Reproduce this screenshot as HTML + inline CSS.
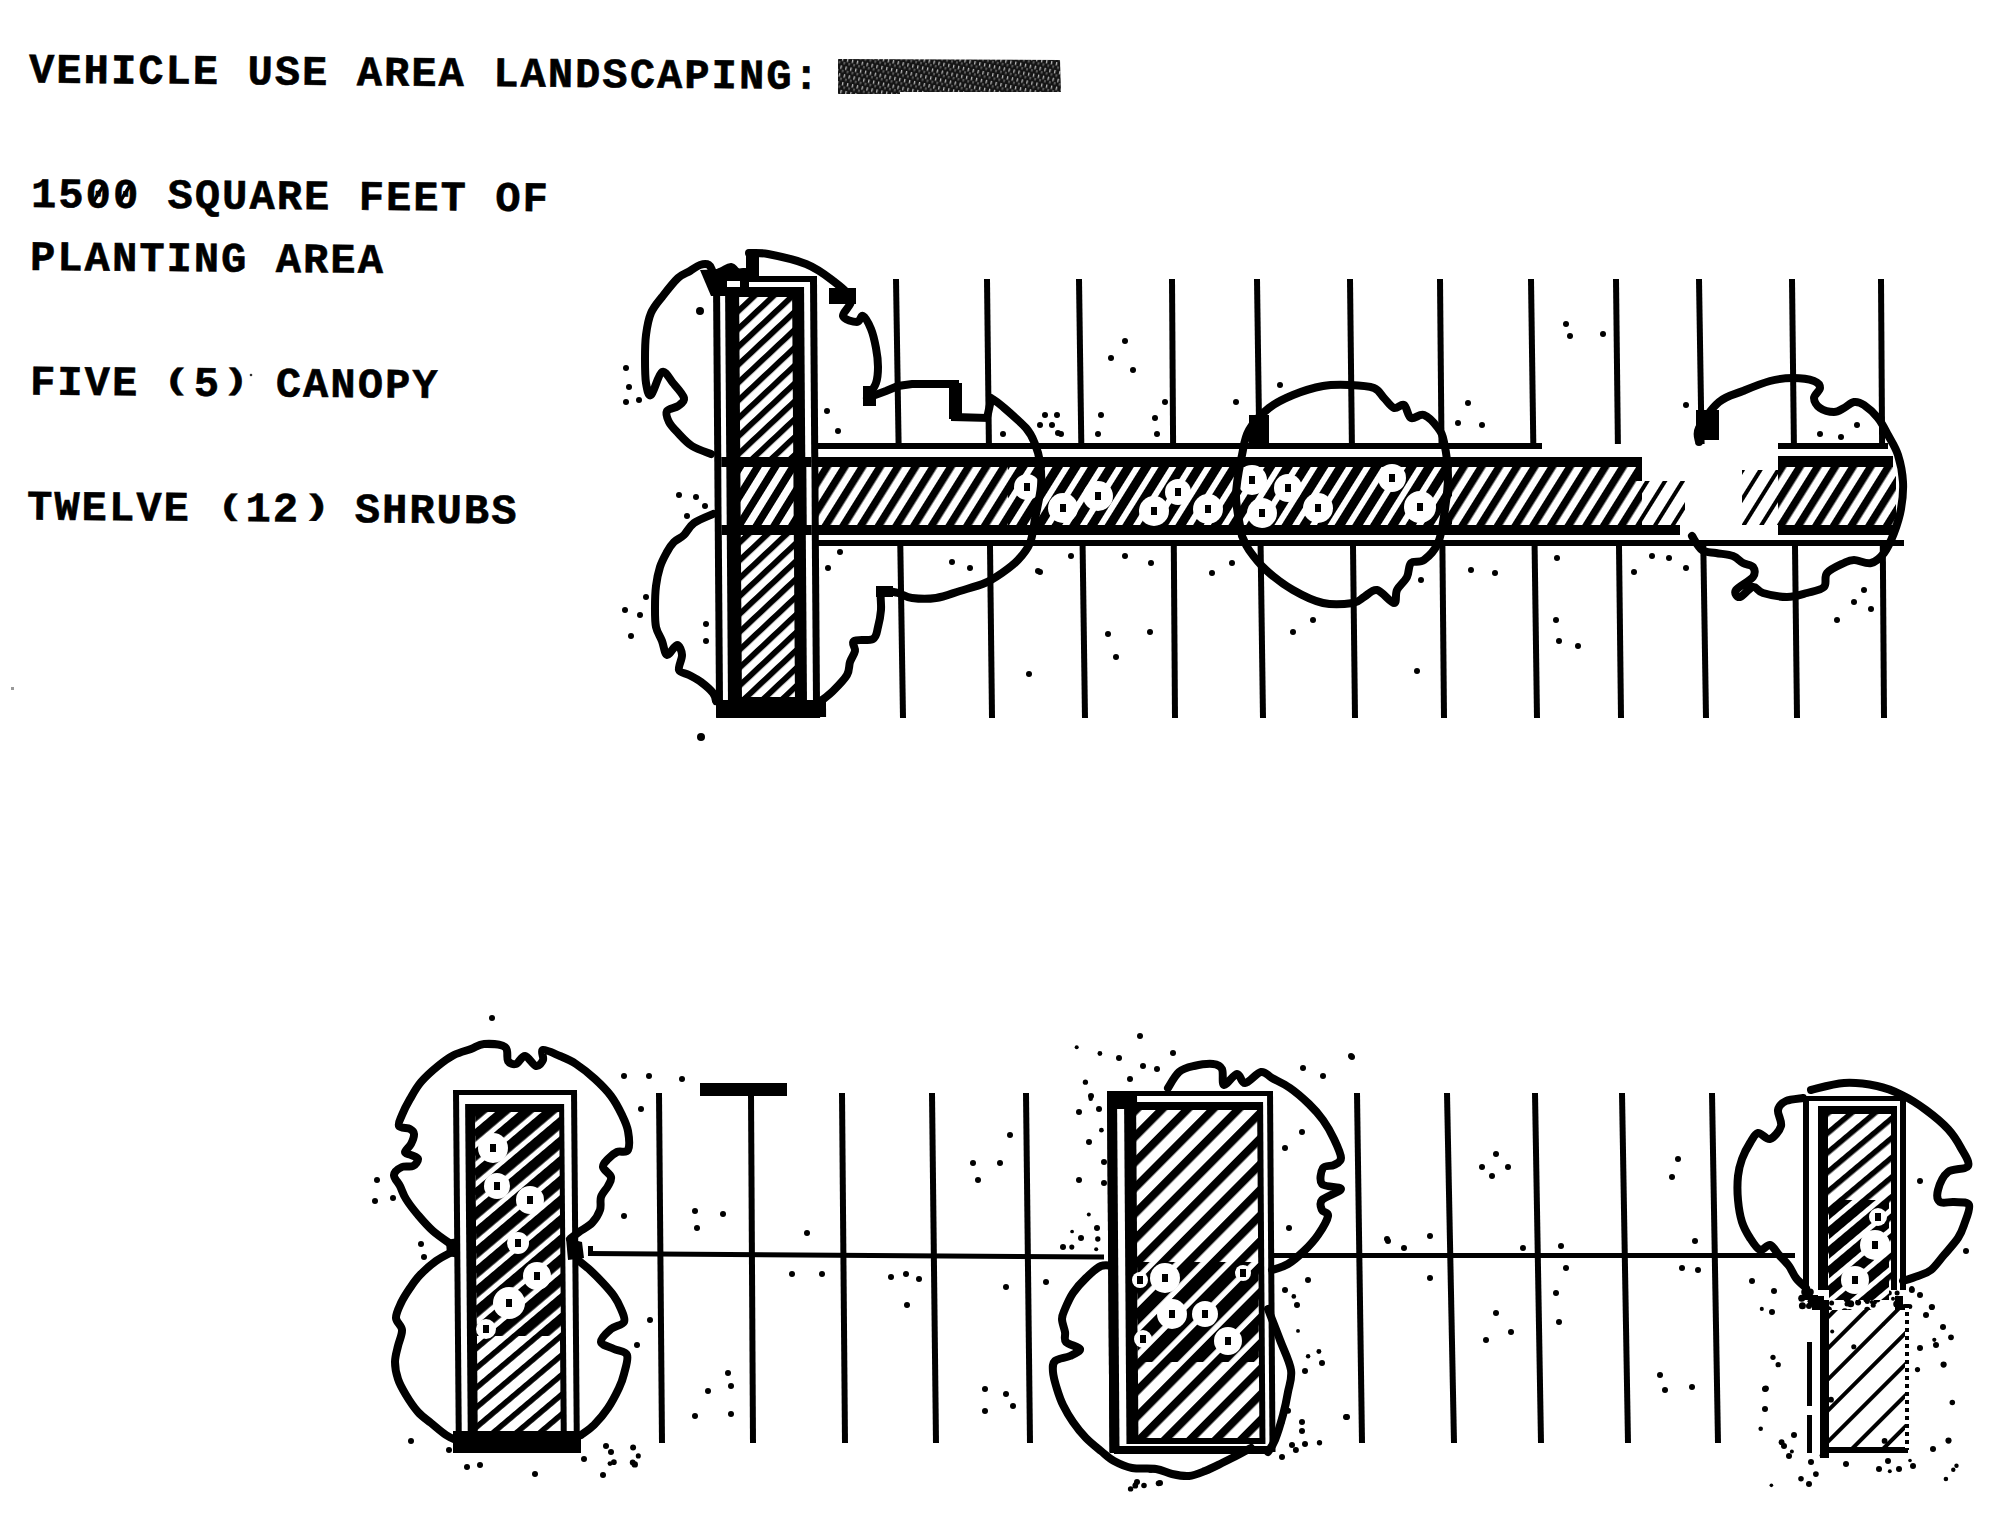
<!DOCTYPE html>
<html><head><meta charset="utf-8"><title>Vehicle Use Area Landscaping</title>
<style>
html,body{margin:0;padding:0;background:#fff;}
body{width:2000px;height:1515px;overflow:hidden;}
svg{display:block;}
</style></head>
<body>
<svg width="2000" height="1515" viewBox="0 0 2000 1515">

<defs>
 <pattern id="hatchH" patternUnits="userSpaceOnUse" width="15" height="15" patternTransform="rotate(32)">
  <rect width="15" height="15" fill="#fff"/><rect x="0" y="0" width="7.5" height="15" fill="#000"/>
 </pattern>
 <pattern id="hatchH2" patternUnits="userSpaceOnUse" width="15" height="15" patternTransform="rotate(32)">
  <rect width="15" height="15" fill="#fff"/><rect x="0" y="0" width="4" height="15" fill="#000"/>
 </pattern>
 <pattern id="hatchS" patternUnits="userSpaceOnUse" width="15" height="15" patternTransform="rotate(32)">
  <rect width="15" height="15" fill="#fff"/><rect x="0" y="0" width="9" height="15" fill="#000"/>
 </pattern>
 <pattern id="hatchV" patternUnits="userSpaceOnUse" width="13" height="13" patternTransform="rotate(47)">
  <rect width="13" height="13" fill="#fff"/><rect x="0" y="0" width="5.8" height="13" fill="#000"/>
 </pattern>
 <pattern id="hatchB" patternUnits="userSpaceOnUse" width="15" height="15" patternTransform="rotate(50)">
  <rect width="15" height="15" fill="#fff"/><rect x="0" y="0" width="5.5" height="15" fill="#000"/>
 </pattern>
 <pattern id="hatchM" patternUnits="userSpaceOnUse" width="18" height="18" patternTransform="rotate(45)">
  <rect width="18" height="18" fill="#fff"/><rect x="0" y="0" width="8" height="18" fill="#000"/>
 </pattern>
 <pattern id="hatchB2" patternUnits="userSpaceOnUse" width="15" height="15" patternTransform="rotate(50)">
  <rect width="15" height="15" fill="#fff"/><rect x="0" y="0" width="10" height="15" fill="#000"/>
 </pattern>
 <pattern id="hatchM2" patternUnits="userSpaceOnUse" width="18" height="18" patternTransform="rotate(45)">
  <rect width="18" height="18" fill="#fff"/><rect x="0" y="0" width="12.5" height="18" fill="#000"/>
 </pattern>
 <pattern id="hatchS2" patternUnits="userSpaceOnUse" width="17" height="17" patternTransform="rotate(45)">
  <rect width="17" height="17" fill="#fff"/><rect x="0" y="0" width="11" height="17" fill="#000"/>
 </pattern>
 <pattern id="hatchF" patternUnits="userSpaceOnUse" width="22" height="22" patternTransform="rotate(45)">
  <rect width="22" height="22" fill="#fff"/><rect x="0" y="0" width="4" height="22" fill="#000"/>
 </pattern>
 <pattern id="dots" patternUnits="userSpaceOnUse" width="4" height="8">
  <rect width="4" height="8" fill="#fff"/><rect x="0" y="0" width="4" height="4" fill="#000"/>
 </pattern>
 <pattern id="bar" patternUnits="userSpaceOnUse" width="5" height="8" patternTransform="rotate(12)">
  <rect width="5" height="8" fill="#141414"/><rect x="1" y="1" width="1.3" height="3.5" fill="#bbb"/><rect x="3.5" y="5" width="1" height="2.5" fill="#999"/>
 </pattern>
</defs>

<rect width="2000" height="1515" fill="#fff"/>
<text transform="rotate(0.47 29 82.5)" x="29" y="82.5" font-family="Liberation Mono, monospace" font-weight="bold" font-size="42" letter-spacing="2.1" stroke="#000" stroke-width="0.6" xml:space="preserve">VEHICLE USE AREA LANDSCAPING:</text>
<text transform="rotate(0.47 31 207)" x="31" y="207" font-family="Liberation Mono, monospace" font-weight="bold" font-size="42" letter-spacing="2.1" stroke="#000" stroke-width="0.6" xml:space="preserve">1500 SQUARE FEET OF</text>
<text transform="rotate(0.47 30 270)" x="30" y="270" font-family="Liberation Mono, monospace" font-weight="bold" font-size="42" letter-spacing="2.1" stroke="#000" stroke-width="0.6" xml:space="preserve">PLANTING AREA</text>
<text transform="rotate(0.47 30 394.5)" x="30" y="394.5" font-family="Liberation Mono, monospace" font-weight="bold" font-size="42" letter-spacing="2.1" stroke="#000" stroke-width="0.6" xml:space="preserve">FIVE  5  CANOPY</text>
<text transform="rotate(0.47 27 519.5)" x="27" y="519.5" font-family="Liberation Mono, monospace" font-weight="bold" font-size="42" letter-spacing="2.1" stroke="#000" stroke-width="0.6" xml:space="preserve">TWELVE  12  SHRUBS</text>
<g transform="rotate(0.47 30 394.5)"><text transform="translate(162.8,387.89) scale(1.1,0.705)" x="0" y="0" font-family="Liberation Mono, monospace" font-weight="bold" font-size="42" stroke="#000" stroke-width="0.6">(</text></g>
<g transform="rotate(0.47 30 394.5)"><text transform="translate(222.1,387.41) scale(1.06,0.705)" x="0" y="0" font-family="Liberation Mono, monospace" font-weight="bold" font-size="42" stroke="#000" stroke-width="0.6">)</text></g>
<g transform="rotate(0.47 27 519.5)"><text transform="translate(216.8,513.13) scale(1.08,0.695)" x="0" y="0" font-family="Liberation Mono, monospace" font-weight="bold" font-size="42" stroke="#000" stroke-width="0.6">(</text></g>
<g transform="rotate(0.47 27 519.5)"><text transform="translate(302.0,512.43) scale(1.15,0.695)" x="0" y="0" font-family="Liberation Mono, monospace" font-weight="bold" font-size="42" stroke="#000" stroke-width="0.6">)</text></g>
<g transform="rotate(0.47 31 207)">
<line x1="92.8" y1="202" x2="103.8" y2="184" stroke="#000" stroke-width="3.5"/>
<line x1="119.2" y1="202" x2="130.2" y2="184" stroke="#000" stroke-width="3.5"/>
</g>
<path d="M838,59 L1060,60 L1061,92 L900,92 L900,94 L838,94 Z" fill="url(#bar)"/>
<line x1="896.0" y1="279.0" x2="898.6" y2="444.0" stroke="#000" stroke-width="6"/>
<line x1="900.3" y1="546.0" x2="903.0" y2="718.0" stroke="#000" stroke-width="6"/>
<line x1="987.0" y1="279.0" x2="988.9" y2="444.0" stroke="#000" stroke-width="6"/>
<line x1="990.0" y1="546.0" x2="992.0" y2="718.0" stroke="#000" stroke-width="6"/>
<line x1="1079.0" y1="279.0" x2="1081.3" y2="444.0" stroke="#000" stroke-width="6"/>
<line x1="1082.6" y1="546.0" x2="1085.0" y2="718.0" stroke="#000" stroke-width="6"/>
<line x1="1172.0" y1="279.0" x2="1173.1" y2="444.0" stroke="#000" stroke-width="6"/>
<line x1="1173.8" y1="546.0" x2="1175.0" y2="718.0" stroke="#000" stroke-width="6"/>
<line x1="1257.0" y1="279.0" x2="1259.3" y2="444.0" stroke="#000" stroke-width="6"/>
<line x1="1260.6" y1="546.0" x2="1263.0" y2="718.0" stroke="#000" stroke-width="6"/>
<line x1="1350.0" y1="279.0" x2="1351.9" y2="444.0" stroke="#000" stroke-width="6"/>
<line x1="1353.0" y1="546.0" x2="1355.0" y2="718.0" stroke="#000" stroke-width="6"/>
<line x1="1440.0" y1="279.0" x2="1441.5" y2="444.0" stroke="#000" stroke-width="6"/>
<line x1="1442.4" y1="546.0" x2="1444.0" y2="718.0" stroke="#000" stroke-width="6"/>
<line x1="1531.0" y1="279.0" x2="1533.3" y2="444.0" stroke="#000" stroke-width="6"/>
<line x1="1534.6" y1="546.0" x2="1537.0" y2="718.0" stroke="#000" stroke-width="6"/>
<line x1="1616.0" y1="279.0" x2="1617.9" y2="444.0" stroke="#000" stroke-width="6"/>
<line x1="1619.0" y1="546.0" x2="1621.0" y2="718.0" stroke="#000" stroke-width="6"/>
<line x1="1699.0" y1="279.0" x2="1701.6" y2="444.0" stroke="#000" stroke-width="6"/>
<line x1="1703.3" y1="546.0" x2="1706.0" y2="718.0" stroke="#000" stroke-width="6"/>
<line x1="1792.0" y1="279.0" x2="1793.9" y2="444.0" stroke="#000" stroke-width="6"/>
<line x1="1795.0" y1="546.0" x2="1797.0" y2="718.0" stroke="#000" stroke-width="6"/>
<line x1="1881.0" y1="279.0" x2="1882.1" y2="444.0" stroke="#000" stroke-width="6"/>
<line x1="1882.8" y1="546.0" x2="1884.0" y2="718.0" stroke="#000" stroke-width="6"/>
<rect x="816" y="443" width="726" height="6" fill="#000"/>
<rect x="1778" y="443" width="110" height="6" fill="#000"/>
<rect x="816" y="540" width="1088" height="6" fill="#000"/>
<rect x="816" y="467" width="826" height="58" fill="url(#hatchH)"/>
<rect x="1642" y="481" width="43" height="44" fill="url(#hatchH2)"/>
<rect x="1742" y="470" width="38" height="55" fill="url(#hatchH2)"/>
<rect x="1778" y="467" width="118" height="58" fill="url(#hatchH)"/>
<rect x="816" y="457" width="826" height="10" fill="#000"/>
<rect x="1778" y="456" width="115" height="11" fill="#000"/>
<rect x="816" y="525" width="864" height="10" fill="#000"/>
<rect x="1778" y="525" width="118" height="10" fill="#000"/>
<rect x="1636" y="467" width="6" height="14" fill="#000"/>
<rect x="1008" y="467" width="444" height="58" fill="url(#hatchS)"/>
<circle cx="1027.0" cy="487.0" r="13" fill="#fff"/>
<rect x="1024.0" y="483.0" width="6" height="8" fill="#000"/>
<circle cx="1063.0" cy="508.0" r="15" fill="#fff"/>
<rect x="1060.0" y="504.0" width="6" height="8" fill="#000"/>
<circle cx="1098.0" cy="496.0" r="15" fill="#fff"/>
<rect x="1095.0" y="492.0" width="6" height="8" fill="#000"/>
<circle cx="1154.0" cy="511.0" r="15" fill="#fff"/>
<rect x="1151.0" y="507.0" width="6" height="8" fill="#000"/>
<circle cx="1178.0" cy="492.0" r="13" fill="#fff"/>
<rect x="1175.0" y="488.0" width="6" height="8" fill="#000"/>
<circle cx="1208.0" cy="509.0" r="15" fill="#fff"/>
<rect x="1205.0" y="505.0" width="6" height="8" fill="#000"/>
<circle cx="1252.0" cy="480.0" r="15" fill="#fff"/>
<rect x="1249.0" y="476.0" width="6" height="8" fill="#000"/>
<circle cx="1262.0" cy="513.0" r="15" fill="#fff"/>
<rect x="1259.0" y="509.0" width="6" height="8" fill="#000"/>
<circle cx="1288.0" cy="488.0" r="14" fill="#fff"/>
<rect x="1285.0" y="484.0" width="6" height="8" fill="#000"/>
<circle cx="1318.0" cy="508.0" r="15" fill="#fff"/>
<rect x="1315.0" y="504.0" width="6" height="8" fill="#000"/>
<circle cx="1392.0" cy="478.0" r="14" fill="#fff"/>
<rect x="1389.0" y="474.0" width="6" height="8" fill="#000"/>
<circle cx="1420.0" cy="507.0" r="16" fill="#fff"/>
<rect x="1417.0" y="503.0" width="6" height="8" fill="#000"/>
<g transform="matrix(1,0,0.0071,1,-1.99,0)">
<rect x="713" y="276" width="104" height="442" fill="#000"/>
<rect x="720" y="282" width="90" height="424" fill="#fff"/>
<rect x="725" y="287" width="79" height="418" fill="#000"/>
<rect x="739" y="297" width="53" height="400" fill="url(#hatchV)"/>
<rect x="720" y="457" width="90" height="78" fill="#000"/>
<rect x="739" y="467" width="53" height="58" fill="url(#hatchH)"/>
<rect x="720" y="467" width="5" height="58" fill="#fff"/>
<rect x="805" y="467" width="5" height="58" fill="#fff"/>
<rect x="713" y="700" width="110" height="17" fill="#000"/>
</g>
<path d="M744.0,272.0 C743.0,272.2 740.2,273.8 738.0,273.0 C735.8,272.2 733.7,267.3 731.0,267.0 C728.3,266.7 724.8,270.0 722.0,271.0 C719.2,272.0 716.2,274.0 714.0,273.0 C711.8,272.0 711.3,266.3 709.0,265.0 C706.7,263.7 703.2,264.0 700.0,265.0 C696.8,266.0 693.7,268.8 690.0,271.0 C686.3,273.2 682.7,273.7 678.0,278.0 C673.3,282.3 666.5,291.2 662.0,297.0 C657.5,302.8 653.7,306.7 651.0,313.0 C648.3,319.3 647.0,327.3 646.0,335.0 C645.0,342.7 645.0,351.0 645.0,359.0 C645.0,367.0 645.0,377.0 646.0,383.0 C647.0,389.0 648.3,396.8 651.0,395.0 C653.7,393.2 658.3,374.0 662.0,372.0 C665.7,370.0 669.3,378.7 673.0,383.0 C676.7,387.3 683.2,394.2 684.0,398.0 C684.8,401.8 680.8,403.8 678.0,406.0 C675.2,408.2 668.5,408.3 667.0,411.0 C665.5,413.7 667.2,418.3 669.0,422.0 C670.8,425.7 674.2,429.0 678.0,433.0 C681.8,437.0 686.5,442.5 692.0,446.0 C697.5,449.5 707.8,452.7 711.0,454.0" fill="none" stroke="#000" stroke-width="8" stroke-linejoin="round" stroke-linecap="round"/>
<path d="M749.0,253.0 C752.2,253.2 758.5,252.2 768.0,254.0 C777.5,255.8 795.3,259.7 806.0,264.0 C816.7,268.3 824.5,274.2 832.0,280.0 C839.5,285.8 849.2,293.0 851.0,299.0 C852.8,305.0 842.0,312.2 843.0,316.0 C844.0,319.8 853.7,322.0 857.0,322.0 C860.3,322.0 860.7,314.8 863.0,316.0 C865.3,317.2 868.8,323.7 871.0,329.0 C873.2,334.3 874.8,341.7 876.0,348.0 C877.2,354.3 878.0,361.2 878.0,367.0 C878.0,372.8 877.8,377.8 876.0,383.0 C874.2,388.2 868.5,395.5 867.0,398.0" fill="none" stroke="#000" stroke-width="8" stroke-linejoin="round" stroke-linecap="round"/>
<polyline points="867,398 886,391 898,386 912,384 955,384 955,417 987,418 991,400" fill="none" stroke="#000" stroke-width="8" stroke-linejoin="miter"/>
<path d="M991.0,398.0 C992.8,399.3 996.2,401.0 1002.0,406.0 C1007.8,411.0 1020.5,421.7 1026.0,428.0 C1031.5,434.3 1032.7,438.3 1035.0,444.0 C1037.3,449.7 1039.0,455.0 1040.0,462.0 C1041.0,469.0 1041.8,476.5 1041.0,486.0 C1040.2,495.5 1036.8,509.5 1035.0,519.0 C1033.2,528.5 1032.8,536.2 1030.0,543.0 C1027.2,549.8 1022.7,555.0 1018.0,560.0 C1013.3,565.0 1007.5,569.2 1002.0,573.0 C996.5,576.8 992.0,580.0 985.0,583.0 C978.0,586.0 968.2,588.5 960.0,591.0 C951.8,593.5 944.0,596.8 936.0,598.0 C928.0,599.2 918.3,598.8 912.0,598.0 C905.7,597.2 902.8,594.3 898.0,593.0 C893.2,591.7 885.5,590.5 883.0,590.0" fill="none" stroke="#000" stroke-width="8" stroke-linejoin="round" stroke-linecap="round"/>
<path d="M713.0,514.0 C709.8,515.5 698.8,519.5 694.0,523.0 C689.2,526.5 687.3,531.8 684.0,535.0 C680.7,538.2 676.8,539.2 674.0,542.0 C671.2,544.8 669.3,547.8 667.0,552.0 C664.7,556.2 661.8,561.3 660.0,567.0 C658.2,572.7 656.8,579.3 656.0,586.0 C655.2,592.7 655.0,600.2 655.0,607.0 C655.0,613.8 654.8,621.3 656.0,627.0 C657.2,632.7 660.2,636.3 662.0,641.0 C663.8,645.7 664.5,654.3 667.0,655.0 C669.5,655.7 674.5,645.0 677.0,645.0 C679.5,645.0 681.7,650.8 682.0,655.0 C682.3,659.2 677.8,666.7 679.0,670.0 C680.2,673.3 685.3,673.0 689.0,675.0 C692.7,677.0 697.0,679.0 701.0,682.0 C705.0,685.0 710.5,689.8 713.0,693.0 C715.5,696.2 715.5,699.7 716.0,701.0" fill="none" stroke="#000" stroke-width="8" stroke-linejoin="round" stroke-linecap="round"/>
<path d="M821.0,701.0 C823.0,699.3 828.7,695.3 833.0,691.0 C837.3,686.7 844.2,679.8 847.0,675.0 C849.8,670.2 848.7,666.0 850.0,662.0 C851.3,658.0 854.3,654.5 855.0,651.0 C855.7,647.5 851.0,643.0 854.0,641.0 C857.0,639.0 869.0,641.3 873.0,639.0 C877.0,636.7 876.7,631.8 878.0,627.0 C879.3,622.2 880.5,615.7 881.0,610.0 C881.5,604.3 880.0,596.2 881.0,593.0 C882.0,589.8 886.0,591.3 887.0,591.0" fill="none" stroke="#000" stroke-width="8" stroke-linejoin="round" stroke-linecap="round"/>
<polygon points="746.0,251.0 759.0,251.0 759.0,276.0 746.0,276.0" fill="#000"/>
<polygon points="700.0,270.0 749.0,268.0 749.0,296.0 711.0,296.0" fill="#000"/>
<rect x="727" y="281" width="13" height="6" fill="#fff"/>
<polygon points="863.0,386.0 876.0,386.0 876.0,406.0 863.0,406.0" fill="#000"/>
<polygon points="949.0,383.0 962.0,383.0 962.0,419.0 949.0,419.0" fill="#000"/>
<polygon points="829.0,288.0 856.0,288.0 856.0,304.0 829.0,304.0" fill="#000"/>
<polygon points="876.0,586.0 893.0,586.0 893.0,597.0 876.0,597.0" fill="#000"/>
<path d="M1242.0,536.0 C1241.0,529.3 1236.0,509.5 1236.0,496.0 C1236.0,482.5 1239.8,466.0 1242.0,455.0 C1244.2,444.0 1244.5,437.8 1249.0,430.0 C1253.5,422.2 1261.7,413.8 1269.0,408.0 C1276.3,402.2 1284.0,398.7 1293.0,395.0 C1302.0,391.3 1313.5,387.7 1323.0,386.0 C1332.5,384.3 1341.5,384.7 1350.0,385.0 C1358.5,385.3 1368.3,385.8 1374.0,388.0 C1379.7,390.2 1380.7,394.7 1384.0,398.0 C1387.3,401.3 1390.7,406.8 1394.0,408.0 C1397.3,409.2 1401.2,403.3 1404.0,405.0 C1406.8,406.7 1407.7,416.3 1411.0,418.0 C1414.3,419.7 1419.5,413.3 1424.0,415.0 C1428.5,416.7 1434.7,423.5 1438.0,428.0 C1441.3,432.5 1442.3,434.0 1444.0,442.0 C1445.7,450.0 1448.0,463.7 1448.0,476.0 C1448.0,488.3 1445.7,504.8 1444.0,516.0 C1442.3,527.2 1441.3,535.7 1438.0,543.0 C1434.7,550.3 1428.5,556.7 1424.0,560.0 C1419.5,563.3 1413.8,560.2 1411.0,563.0 C1408.2,565.8 1409.3,572.5 1407.0,577.0 C1404.7,581.5 1399.2,585.7 1397.0,590.0 C1394.8,594.3 1397.3,603.0 1394.0,603.0 C1390.7,603.0 1382.0,591.0 1377.0,590.0 C1372.0,589.0 1368.0,594.8 1364.0,597.0 C1360.0,599.2 1359.8,602.0 1353.0,603.0 C1346.2,604.0 1333.0,605.2 1323.0,603.0 C1313.0,600.8 1302.5,595.5 1293.0,590.0 C1283.5,584.5 1273.3,576.7 1266.0,570.0 C1258.7,563.3 1253.0,555.7 1249.0,550.0 C1245.0,544.3 1243.2,538.3 1242.0,536.0" fill="none" stroke="#000" stroke-width="8" stroke-linejoin="round" stroke-linecap="round"/>
<polygon points="1249.0,415.0 1269.0,415.0 1269.0,449.0 1249.0,449.0" fill="#000"/>
<path d="M1699.0,442.0 C1699.0,439.7 1695.7,434.7 1699.0,428.0 C1702.3,421.3 1711.7,408.2 1719.0,402.0 C1726.3,395.8 1734.5,394.5 1743.0,391.0 C1751.5,387.5 1761.7,383.2 1770.0,381.0 C1778.3,378.8 1785.7,378.0 1793.0,378.0 C1800.3,378.0 1809.5,379.3 1814.0,381.0 C1818.5,382.7 1820.0,385.2 1820.0,388.0 C1820.0,390.8 1814.0,394.7 1814.0,398.0 C1814.0,401.3 1816.7,405.7 1820.0,408.0 C1823.3,410.3 1830.0,412.0 1834.0,412.0 C1838.0,412.0 1840.7,409.7 1844.0,408.0 C1847.3,406.3 1850.7,402.5 1854.0,402.0 C1857.3,401.5 1860.0,402.3 1864.0,405.0 C1868.0,407.7 1874.0,413.0 1878.0,418.0 C1882.0,423.0 1884.7,428.8 1888.0,435.0 C1891.3,441.2 1895.5,447.2 1898.0,455.0 C1900.5,462.8 1902.5,473.0 1903.0,482.0 C1903.5,491.0 1902.5,500.5 1901.0,509.0 C1899.5,517.5 1896.8,525.7 1894.0,533.0 C1891.2,540.3 1887.8,548.0 1884.0,553.0 C1880.2,558.0 1876.0,561.8 1871.0,563.0 C1866.0,564.2 1858.5,560.0 1854.0,560.0 C1849.5,560.0 1848.5,560.8 1844.0,563.0 C1839.5,565.2 1830.3,569.0 1827.0,573.0 C1823.7,577.0 1827.3,583.7 1824.0,587.0 C1820.7,590.3 1813.2,591.3 1807.0,593.0 C1800.8,594.7 1794.3,597.0 1787.0,597.0 C1779.7,597.0 1768.7,594.7 1763.0,593.0 C1757.3,591.3 1756.8,586.3 1753.0,587.0 C1749.2,587.7 1742.8,596.5 1740.0,597.0 C1737.2,597.5 1733.8,593.3 1736.0,590.0 C1738.2,586.7 1750.2,580.8 1753.0,577.0 C1755.8,573.2 1754.7,569.3 1753.0,567.0 C1751.3,564.7 1746.3,564.8 1743.0,563.0 C1739.7,561.2 1737.5,557.7 1733.0,556.0 C1728.5,554.3 1721.2,554.0 1716.0,553.0 C1710.8,552.0 1706.0,552.8 1702.0,550.0 C1698.0,547.2 1693.7,538.3 1692.0,536.0" fill="none" stroke="#000" stroke-width="8" stroke-linejoin="round" stroke-linecap="round"/>
<polygon points="1696.0,410.0 1719.0,410.0 1719.0,440.0 1696.0,440.0" fill="#000"/>
<line x1="588.0" y1="1253.5" x2="1104.0" y2="1257.0" stroke="#000" stroke-width="5"/>
<rect x="588" y="1246" width="5" height="8" fill="#000"/>
<rect x="1272" y="1253" width="523" height="5" fill="#000"/>
<line x1="659.0" y1="1093.0" x2="662.0" y2="1443.0" stroke="#000" stroke-width="6"/>
<line x1="751.0" y1="1093.0" x2="753.0" y2="1443.0" stroke="#000" stroke-width="6"/>
<line x1="842.0" y1="1093.0" x2="845.0" y2="1443.0" stroke="#000" stroke-width="6"/>
<line x1="932.0" y1="1093.0" x2="936.0" y2="1443.0" stroke="#000" stroke-width="6"/>
<line x1="1026.0" y1="1093.0" x2="1030.0" y2="1443.0" stroke="#000" stroke-width="6"/>
<line x1="1357.0" y1="1093.0" x2="1362.0" y2="1443.0" stroke="#000" stroke-width="6"/>
<line x1="1447.0" y1="1093.0" x2="1454.0" y2="1443.0" stroke="#000" stroke-width="6"/>
<line x1="1535.0" y1="1093.0" x2="1541.0" y2="1443.0" stroke="#000" stroke-width="6"/>
<line x1="1622.0" y1="1093.0" x2="1628.0" y2="1443.0" stroke="#000" stroke-width="6"/>
<line x1="1712.0" y1="1093.0" x2="1718.0" y2="1443.0" stroke="#000" stroke-width="6"/>
<rect x="700" y="1083" width="87" height="13" fill="#000"/>
<g transform="matrix(1,0,0.008,1,-8.72,0)">
<rect x="453" y="1090" width="124" height="355" fill="#000"/>
<rect x="459" y="1095" width="112" height="345" fill="#fff"/>
<rect x="465" y="1104" width="99" height="336" fill="#000"/>
<rect x="475" y="1112" width="83" height="322" fill="url(#hatchB)"/>
<rect x="475" y="1112" width="84" height="224" fill="url(#hatchB2)"/>
</g>
<g transform="matrix(1,0,0.007,1,-7.64,0)">
<rect x="1107" y="1091" width="166" height="361" fill="#000"/>
<rect x="1113" y="1096" width="154" height="351" fill="#fff"/>
<rect x="1124" y="1102" width="139" height="342" fill="#000"/>
<rect x="1136" y="1110" width="121" height="328" fill="url(#hatchM)"/>
<rect x="1107" y="1091" width="10" height="362" fill="#000"/>
<rect x="1107" y="1091" width="30" height="18" fill="#000"/>
<rect x="1136" y="1262" width="121" height="100" fill="url(#hatchM2)"/>
</g>
<rect x="1803" y="1096" width="103" height="204" fill="#000"/>
<rect x="1809" y="1101" width="91" height="194" fill="#fff"/>
<rect x="1818" y="1106" width="79" height="194" fill="#000"/>
<rect x="1828" y="1114" width="63" height="180" fill="url(#hatchB)"/>
<rect x="1818" y="1290" width="90" height="10" fill="#fff"/>
<path d="M452.0,1245.0 C448.8,1242.7 438.7,1236.0 433.0,1231.0 C427.3,1226.0 422.5,1220.3 418.0,1215.0 C413.5,1209.7 409.0,1203.8 406.0,1199.0 C403.0,1194.2 402.0,1190.0 400.0,1186.0 C398.0,1182.0 393.7,1178.2 394.0,1175.0 C394.3,1171.8 398.8,1168.5 402.0,1167.0 C405.2,1165.5 410.3,1167.3 413.0,1166.0 C415.7,1164.7 418.3,1160.8 418.0,1159.0 C417.7,1157.2 413.2,1156.2 411.0,1155.0 C408.8,1153.8 405.0,1153.8 405.0,1152.0 C405.0,1150.2 409.5,1147.0 411.0,1144.0 C412.5,1141.0 414.2,1136.5 414.0,1134.0 C413.8,1131.5 412.5,1130.3 410.0,1129.0 C407.5,1127.7 400.3,1128.3 399.0,1126.0 C397.7,1123.7 400.2,1119.5 402.0,1115.0 C403.8,1110.5 406.8,1104.5 410.0,1099.0 C413.2,1093.5 416.3,1087.5 421.0,1082.0 C425.7,1076.5 432.5,1070.5 438.0,1066.0 C443.5,1061.5 448.5,1057.8 454.0,1055.0 C459.5,1052.2 466.0,1050.8 471.0,1049.0 C476.0,1047.2 478.3,1044.3 484.0,1044.0 C489.7,1043.7 501.0,1044.2 505.0,1047.0 C509.0,1049.8 506.2,1058.2 508.0,1061.0 C509.8,1063.8 513.2,1064.8 516.0,1064.0 C518.8,1063.2 521.7,1055.7 525.0,1056.0 C528.3,1056.3 533.0,1065.3 536.0,1066.0 C539.0,1066.7 541.8,1062.7 543.0,1060.0 C544.2,1057.3 540.2,1050.7 543.0,1050.0 C545.8,1049.3 554.5,1053.7 560.0,1056.0 C565.5,1058.3 570.2,1060.2 576.0,1064.0 C581.8,1067.8 589.2,1073.7 595.0,1079.0 C600.8,1084.3 606.5,1090.0 611.0,1096.0 C615.5,1102.0 619.2,1109.2 622.0,1115.0 C624.8,1120.8 627.0,1125.2 628.0,1131.0 C629.0,1136.8 629.8,1146.5 628.0,1150.0 C626.2,1153.5 620.3,1150.5 617.0,1152.0 C613.7,1153.5 610.3,1156.5 608.0,1159.0 C605.7,1161.5 602.5,1164.0 603.0,1167.0 C603.5,1170.0 610.2,1173.8 611.0,1177.0 C611.8,1180.2 609.7,1182.7 608.0,1186.0 C606.3,1189.3 602.3,1193.0 601.0,1197.0 C599.7,1201.0 601.5,1205.7 600.0,1210.0 C598.5,1214.3 595.5,1219.3 592.0,1223.0 C588.5,1226.7 582.7,1229.3 579.0,1232.0 C575.3,1234.7 571.5,1237.8 570.0,1239.0" fill="none" stroke="#000" stroke-width="8" stroke-linejoin="round" stroke-linecap="round"/>
<path d="M452.0,1252.0 C449.3,1253.5 441.3,1257.2 436.0,1261.0 C430.7,1264.8 424.3,1270.5 420.0,1275.0 C415.7,1279.5 413.2,1283.3 410.0,1288.0 C406.8,1292.7 403.3,1298.0 401.0,1303.0 C398.7,1308.0 395.8,1313.5 396.0,1318.0 C396.2,1322.5 401.7,1325.3 402.0,1330.0 C402.3,1334.7 399.2,1340.7 398.0,1346.0 C396.8,1351.3 395.0,1356.5 395.0,1362.0 C395.0,1367.5 396.2,1373.5 398.0,1379.0 C399.8,1384.5 402.7,1389.5 406.0,1395.0 C409.3,1400.5 413.8,1407.3 418.0,1412.0 C422.2,1416.7 426.3,1419.2 431.0,1423.0 C435.7,1426.8 441.8,1432.2 446.0,1435.0 C450.2,1437.8 454.3,1439.2 456.0,1440.0" fill="none" stroke="#000" stroke-width="8" stroke-linejoin="round" stroke-linecap="round"/>
<path d="M581.0,1435.0 C583.2,1433.3 589.5,1429.5 594.0,1425.0 C598.5,1420.5 603.8,1414.2 608.0,1408.0 C612.2,1401.8 616.3,1393.7 619.0,1388.0 C621.7,1382.3 622.7,1379.5 624.0,1374.0 C625.3,1368.5 628.7,1359.2 627.0,1355.0 C625.3,1350.8 618.3,1351.2 614.0,1349.0 C609.7,1346.8 601.5,1345.3 601.0,1342.0 C600.5,1338.7 607.2,1332.3 611.0,1329.0 C614.8,1325.7 622.3,1325.3 624.0,1322.0 C625.7,1318.7 622.7,1313.3 621.0,1309.0 C619.3,1304.7 617.0,1300.3 614.0,1296.0 C611.0,1291.7 607.0,1287.3 603.0,1283.0 C599.0,1278.7 594.2,1273.8 590.0,1270.0 C585.8,1266.2 580.0,1261.7 578.0,1260.0" fill="none" stroke="#000" stroke-width="8" stroke-linejoin="round" stroke-linecap="round"/>
<rect x="453" y="1431" width="128" height="22" fill="#000"/>
<polygon points="566.0,1238.0 582.0,1242.0 584.0,1258.0 568.0,1260.0" fill="#000"/>
<polygon points="446.0,1240.0 458.0,1238.0 460.0,1258.0 447.0,1256.0" fill="#000"/>
<path d="M1168.0,1088.0 C1169.8,1085.3 1174.7,1075.7 1179.0,1072.0 C1183.3,1068.3 1188.3,1067.3 1194.0,1066.0 C1199.7,1064.7 1208.3,1063.5 1213.0,1064.0 C1217.7,1064.5 1220.2,1065.5 1222.0,1069.0 C1223.8,1072.5 1221.5,1084.2 1224.0,1085.0 C1226.5,1085.8 1233.5,1074.3 1237.0,1074.0 C1240.5,1073.7 1241.0,1083.3 1245.0,1083.0 C1249.0,1082.7 1256.5,1072.8 1261.0,1072.0 C1265.5,1071.2 1267.2,1075.3 1272.0,1078.0 C1276.8,1080.7 1283.8,1083.7 1290.0,1088.0 C1296.2,1092.3 1303.5,1098.7 1309.0,1104.0 C1314.5,1109.3 1318.8,1114.2 1323.0,1120.0 C1327.2,1125.8 1331.0,1132.7 1334.0,1139.0 C1337.0,1145.3 1341.0,1153.7 1341.0,1158.0 C1341.0,1162.3 1337.0,1163.3 1334.0,1165.0 C1331.0,1166.7 1325.0,1164.8 1323.0,1168.0 C1321.0,1171.2 1319.0,1180.5 1322.0,1184.0 C1325.0,1187.5 1341.0,1186.3 1341.0,1189.0 C1341.0,1191.7 1325.2,1196.5 1322.0,1200.0 C1318.8,1203.5 1321.0,1207.3 1322.0,1210.0 C1323.0,1212.7 1328.7,1211.8 1328.0,1216.0 C1327.3,1220.2 1322.0,1229.2 1318.0,1235.0 C1314.0,1240.8 1309.0,1246.2 1304.0,1251.0 C1299.0,1255.8 1293.3,1260.8 1288.0,1264.0 C1282.7,1267.2 1274.7,1269.0 1272.0,1270.0" fill="none" stroke="#000" stroke-width="8" stroke-linejoin="round" stroke-linecap="round"/>
<path d="M1114.0,1266.0 C1111.8,1266.0 1105.7,1264.0 1101.0,1266.0 C1096.3,1268.0 1090.7,1273.5 1086.0,1278.0 C1081.3,1282.5 1076.5,1287.8 1073.0,1293.0 C1069.5,1298.2 1066.8,1304.7 1065.0,1309.0 C1063.2,1313.3 1062.0,1315.2 1062.0,1319.0 C1062.0,1322.8 1064.3,1328.2 1065.0,1332.0 C1065.7,1335.8 1063.5,1339.2 1066.0,1342.0 C1068.5,1344.8 1079.3,1346.7 1080.0,1349.0 C1080.7,1351.3 1074.2,1354.0 1070.0,1356.0 C1065.8,1358.0 1057.8,1358.3 1055.0,1361.0 C1052.2,1363.7 1052.7,1367.3 1053.0,1372.0 C1053.3,1376.7 1055.3,1383.5 1057.0,1389.0 C1058.7,1394.5 1060.3,1399.5 1063.0,1405.0 C1065.7,1410.5 1069.2,1416.5 1073.0,1422.0 C1076.8,1427.5 1081.3,1433.2 1086.0,1438.0 C1090.7,1442.8 1096.3,1447.2 1101.0,1451.0 C1105.7,1454.8 1108.8,1458.2 1114.0,1461.0 C1119.2,1463.8 1125.0,1466.7 1132.0,1468.0 C1139.0,1469.3 1149.3,1468.0 1156.0,1469.0 C1162.7,1470.0 1166.5,1472.8 1172.0,1474.0 C1177.5,1475.2 1183.5,1476.5 1189.0,1476.0 C1194.5,1475.5 1199.5,1473.2 1205.0,1471.0 C1210.5,1468.8 1216.5,1465.7 1222.0,1463.0 C1227.5,1460.3 1233.2,1457.5 1238.0,1455.0 C1242.8,1452.5 1248.8,1449.2 1251.0,1448.0" fill="none" stroke="#000" stroke-width="8" stroke-linejoin="round" stroke-linecap="round"/>
<path d="M1268.0,1309.0 C1270.0,1314.2 1276.2,1329.8 1280.0,1340.0 C1283.8,1350.2 1289.7,1361.3 1291.0,1370.0 C1292.3,1378.7 1289.3,1384.5 1288.0,1392.0 C1286.7,1399.5 1285.2,1407.0 1283.0,1415.0 C1280.8,1423.0 1277.5,1433.8 1275.0,1440.0 C1272.5,1446.2 1269.2,1450.0 1268.0,1452.0" fill="none" stroke="#000" stroke-width="8" stroke-linejoin="round" stroke-linecap="round"/>
<rect x="1114" y="1446" width="157" height="8" fill="#000"/>
<path d="M1811.0,1090.0 C1816.5,1088.8 1833.0,1083.7 1844.0,1083.0 C1855.0,1082.3 1867.3,1084.0 1877.0,1086.0 C1886.7,1088.0 1893.8,1091.0 1902.0,1095.0 C1910.2,1099.0 1918.3,1104.3 1926.0,1110.0 C1933.7,1115.7 1942.2,1122.7 1948.0,1129.0 C1953.8,1135.3 1957.7,1141.8 1961.0,1148.0 C1964.3,1154.2 1970.2,1162.0 1968.0,1166.0 C1965.8,1170.0 1953.0,1168.0 1948.0,1172.0 C1943.0,1176.0 1939.3,1185.0 1938.0,1190.0 C1936.7,1195.0 1937.3,1200.0 1940.0,1202.0 C1942.7,1204.0 1949.2,1201.5 1954.0,1202.0 C1958.8,1202.5 1967.3,1201.2 1969.0,1205.0 C1970.7,1208.8 1965.8,1219.5 1964.0,1225.0 C1962.2,1230.5 1961.3,1233.0 1958.0,1238.0 C1954.7,1243.0 1948.5,1249.7 1944.0,1255.0 C1939.5,1260.3 1935.3,1266.5 1931.0,1270.0 C1926.7,1273.5 1922.7,1274.2 1918.0,1276.0 C1913.3,1277.8 1905.5,1280.2 1903.0,1281.0" fill="none" stroke="#000" stroke-width="8" stroke-linejoin="round" stroke-linecap="round"/>
<path d="M1803.0,1098.0 C1800.2,1098.5 1790.2,1099.0 1786.0,1101.0 C1781.8,1103.0 1778.8,1105.8 1778.0,1110.0 C1777.2,1114.2 1782.3,1121.2 1781.0,1126.0 C1779.7,1130.8 1773.8,1137.8 1770.0,1139.0 C1766.2,1140.2 1761.3,1132.3 1758.0,1133.0 C1754.7,1133.7 1752.7,1138.7 1750.0,1143.0 C1747.3,1147.3 1744.0,1153.5 1742.0,1159.0 C1740.0,1164.5 1738.7,1169.2 1738.0,1176.0 C1737.3,1182.8 1737.3,1192.3 1738.0,1200.0 C1738.7,1207.7 1740.0,1215.7 1742.0,1222.0 C1744.0,1228.3 1747.0,1233.3 1750.0,1238.0 C1753.0,1242.7 1756.7,1248.8 1760.0,1250.0 C1763.3,1251.2 1766.8,1244.2 1770.0,1245.0 C1773.2,1245.8 1775.8,1251.5 1779.0,1255.0 C1782.2,1258.5 1786.2,1262.2 1789.0,1266.0 C1791.8,1269.8 1793.2,1274.3 1796.0,1278.0 C1798.8,1281.7 1804.3,1286.3 1806.0,1288.0" fill="none" stroke="#000" stroke-width="8" stroke-linejoin="round" stroke-linecap="round"/>
<circle cx="1850.7" cy="1303.7" r="3.50" fill="#000"/>
<circle cx="1850.6" cy="1311.9" r="2.50" fill="#000"/>
<circle cx="1820.7" cy="1302.3" r="2.50" fill="#000"/>
<circle cx="1810.5" cy="1296.5" r="2.00" fill="#000"/>
<circle cx="1860.3" cy="1312.9" r="2.00" fill="#000"/>
<circle cx="1866.7" cy="1299.1" r="3.50" fill="#000"/>
<circle cx="1873.2" cy="1305.2" r="2.50" fill="#000"/>
<circle cx="1869.8" cy="1311.3" r="2.00" fill="#000"/>
<circle cx="1806.7" cy="1293.3" r="2.50" fill="#000"/>
<circle cx="1867.2" cy="1309.8" r="3.00" fill="#000"/>
<circle cx="1849.3" cy="1311.6" r="2.50" fill="#000"/>
<circle cx="1871.7" cy="1302.0" r="2.00" fill="#000"/>
<circle cx="1851.2" cy="1295.8" r="2.00" fill="#000"/>
<circle cx="1879.3" cy="1296.8" r="2.50" fill="#000"/>
<circle cx="1857.4" cy="1288.8" r="2.00" fill="#000"/>
<circle cx="1844.8" cy="1311.7" r="3.50" fill="#000"/>
<circle cx="1807.5" cy="1288.5" r="2.00" fill="#000"/>
<circle cx="1823.9" cy="1314.0" r="2.00" fill="#000"/>
<circle cx="1852.6" cy="1315.5" r="3.50" fill="#000"/>
<circle cx="1847.0" cy="1303.9" r="2.50" fill="#000"/>
<circle cx="1887.2" cy="1295.6" r="2.00" fill="#000"/>
<circle cx="1834.9" cy="1288.4" r="3.50" fill="#000"/>
<circle cx="1884.9" cy="1291.3" r="2.50" fill="#000"/>
<circle cx="1879.2" cy="1288.3" r="3.50" fill="#000"/>
<circle cx="1889.3" cy="1293.0" r="2.50" fill="#000"/>
<circle cx="1850.1" cy="1293.3" r="2.50" fill="#000"/>
<circle cx="1847.0" cy="1298.7" r="3.50" fill="#000"/>
<circle cx="1847.1" cy="1294.0" r="3.00" fill="#000"/>
<circle cx="1896.8" cy="1315.3" r="3.00" fill="#000"/>
<circle cx="1911.8" cy="1288.5" r="2.50" fill="#000"/>
<circle cx="1844.2" cy="1311.9" r="2.00" fill="#000"/>
<circle cx="1804.7" cy="1292.1" r="3.50" fill="#000"/>
<circle cx="1828.9" cy="1309.6" r="3.00" fill="#000"/>
<circle cx="1893.0" cy="1298.8" r="2.00" fill="#000"/>
<circle cx="1810.1" cy="1304.3" r="2.50" fill="#000"/>
<circle cx="1801.7" cy="1298.3" r="3.50" fill="#000"/>
<circle cx="1814.2" cy="1304.4" r="2.50" fill="#000"/>
<circle cx="1897.1" cy="1293.1" r="2.50" fill="#000"/>
<circle cx="1834.8" cy="1294.4" r="2.50" fill="#000"/>
<circle cx="1881.2" cy="1292.4" r="2.50" fill="#000"/>
<circle cx="1876.9" cy="1298.9" r="3.50" fill="#000"/>
<circle cx="1867.6" cy="1299.8" r="2.00" fill="#000"/>
<circle cx="1812.2" cy="1302.3" r="3.00" fill="#000"/>
<circle cx="1826.7" cy="1307.7" r="3.00" fill="#000"/>
<circle cx="1847.1" cy="1313.3" r="3.50" fill="#000"/>
<circle cx="1832.9" cy="1292.9" r="2.00" fill="#000"/>
<circle cx="1814.2" cy="1301.4" r="2.00" fill="#000"/>
<circle cx="1831.4" cy="1313.7" r="2.50" fill="#000"/>
<circle cx="1883.9" cy="1289.9" r="3.50" fill="#000"/>
<circle cx="1849.9" cy="1289.7" r="2.50" fill="#000"/>
<circle cx="1831.6" cy="1302.9" r="2.50" fill="#000"/>
<circle cx="1810.3" cy="1291.9" r="3.50" fill="#000"/>
<circle cx="1909.8" cy="1306.4" r="2.50" fill="#000"/>
<circle cx="1866.1" cy="1313.9" r="3.50" fill="#000"/>
<circle cx="1901.9" cy="1307.6" r="2.00" fill="#000"/>
<circle cx="1802.4" cy="1305.8" r="3.50" fill="#000"/>
<circle cx="1807.5" cy="1296.7" r="2.50" fill="#000"/>
<circle cx="1911.9" cy="1290.1" r="3.00" fill="#000"/>
<circle cx="1882.5" cy="1313.2" r="2.50" fill="#000"/>
<circle cx="1888.8" cy="1313.6" r="3.00" fill="#000"/>
<circle cx="1809.5" cy="1301.3" r="2.00" fill="#000"/>
<circle cx="1897.6" cy="1299.7" r="2.00" fill="#000"/>
<circle cx="1896.7" cy="1304.0" r="3.50" fill="#000"/>
<circle cx="1842.5" cy="1288.3" r="2.00" fill="#000"/>
<circle cx="1809.0" cy="1305.9" r="3.00" fill="#000"/>
<circle cx="1898.5" cy="1308.4" r="3.50" fill="#000"/>
<circle cx="1904.6" cy="1307.4" r="3.50" fill="#000"/>
<circle cx="1849.3" cy="1311.5" r="2.00" fill="#000"/>
<circle cx="1858.1" cy="1302.4" r="3.00" fill="#000"/>
<circle cx="1867.3" cy="1301.5" r="2.50" fill="#000"/>
<rect x="1812" y="1296" width="12" height="14" fill="#000"/>
<rect x="1895" y="1296" width="8" height="16" fill="#000"/>
<rect x="1820" y="1300" width="9" height="158" fill="#000"/>
<rect x="1807" y="1342" width="5" height="64" fill="#000"/>
<rect x="1807" y="1415" width="5" height="38" fill="#000"/>
<rect x="1828" y="1447" width="80" height="6" fill="#000"/>
<rect x="1905" y="1300" width="4" height="150" fill="url(#dots)"/>
<rect x="1829" y="1310" width="76" height="137" fill="url(#hatchF)"/>
<rect x="1829" y="1200" width="60" height="100" fill="url(#hatchB2)"/>
<circle cx="493.0" cy="1148.0" r="15" fill="#fff"/>
<rect x="490.0" y="1144.0" width="6" height="8" fill="#000"/>
<circle cx="497.0" cy="1186.0" r="13" fill="#fff"/>
<rect x="494.0" y="1182.0" width="6" height="8" fill="#000"/>
<circle cx="530.0" cy="1200.0" r="14" fill="#fff"/>
<rect x="527.0" y="1196.0" width="6" height="8" fill="#000"/>
<circle cx="537.0" cy="1276.0" r="14" fill="#fff"/>
<rect x="534.0" y="1272.0" width="6" height="8" fill="#000"/>
<circle cx="509.0" cy="1303.0" r="16" fill="#fff"/>
<rect x="506.0" y="1299.0" width="6" height="8" fill="#000"/>
<circle cx="518.0" cy="1243.0" r="11" fill="#fff"/>
<rect x="515.0" y="1239.0" width="6" height="8" fill="#000"/>
<circle cx="486.0" cy="1329.0" r="10" fill="#fff"/>
<rect x="483.0" y="1325.0" width="6" height="8" fill="#000"/>
<circle cx="1165.0" cy="1278.0" r="15" fill="#fff"/>
<rect x="1162.0" y="1274.0" width="6" height="8" fill="#000"/>
<circle cx="1172.0" cy="1314.0" r="15" fill="#fff"/>
<rect x="1169.0" y="1310.0" width="6" height="8" fill="#000"/>
<circle cx="1205.0" cy="1314.0" r="13" fill="#fff"/>
<rect x="1202.0" y="1310.0" width="6" height="8" fill="#000"/>
<circle cx="1228.0" cy="1341.0" r="14" fill="#fff"/>
<rect x="1225.0" y="1337.0" width="6" height="8" fill="#000"/>
<circle cx="1143.0" cy="1339.0" r="9" fill="#fff"/>
<rect x="1140.0" y="1335.0" width="6" height="8" fill="#000"/>
<circle cx="1140.0" cy="1280.0" r="8" fill="#fff"/>
<rect x="1137.0" y="1276.0" width="6" height="8" fill="#000"/>
<circle cx="1243.0" cy="1273.0" r="8" fill="#fff"/>
<rect x="1240.0" y="1269.0" width="6" height="8" fill="#000"/>
<circle cx="1875.0" cy="1245.0" r="15" fill="#fff"/>
<rect x="1872.0" y="1241.0" width="6" height="8" fill="#000"/>
<circle cx="1855.0" cy="1280.0" r="14" fill="#fff"/>
<rect x="1852.0" y="1276.0" width="6" height="8" fill="#000"/>
<circle cx="1878.0" cy="1217.0" r="9" fill="#fff"/>
<rect x="1875.0" y="1213.0" width="6" height="8" fill="#000"/>
<circle cx="626.0" cy="368.0" r="3.00" fill="#000"/>
<circle cx="629.0" cy="387.0" r="3.00" fill="#000"/>
<circle cx="626.0" cy="402.0" r="3.00" fill="#000"/>
<circle cx="639.0" cy="400.0" r="3.00" fill="#000"/>
<circle cx="700.0" cy="311.0" r="4.00" fill="#000"/>
<circle cx="679.0" cy="495.0" r="3.00" fill="#000"/>
<circle cx="696.0" cy="497.0" r="3.00" fill="#000"/>
<circle cx="705.0" cy="506.0" r="3.00" fill="#000"/>
<circle cx="687.0" cy="516.0" r="3.00" fill="#000"/>
<circle cx="646.0" cy="597.0" r="3.00" fill="#000"/>
<circle cx="625.0" cy="610.0" r="3.00" fill="#000"/>
<circle cx="640.0" cy="615.0" r="3.00" fill="#000"/>
<circle cx="631.0" cy="636.0" r="3.00" fill="#000"/>
<circle cx="701.0" cy="737.0" r="4.00" fill="#000"/>
<circle cx="706.0" cy="624.0" r="3.00" fill="#000"/>
<circle cx="706.0" cy="641.0" r="3.00" fill="#000"/>
<circle cx="827.0" cy="411.0" r="3.00" fill="#000"/>
<circle cx="838.0" cy="431.0" r="3.00" fill="#000"/>
<circle cx="1003.0" cy="434.0" r="3.00" fill="#000"/>
<circle cx="1045.0" cy="415.0" r="3.00" fill="#000"/>
<circle cx="1052.0" cy="425.0" r="3.00" fill="#000"/>
<circle cx="1058.0" cy="433.0" r="3.00" fill="#000"/>
<circle cx="828.0" cy="568.0" r="3.00" fill="#000"/>
<circle cx="840.0" cy="552.0" r="3.00" fill="#000"/>
<circle cx="952.0" cy="562.0" r="3.00" fill="#000"/>
<circle cx="970.0" cy="568.0" r="3.00" fill="#000"/>
<circle cx="1038.0" cy="571.0" r="3.00" fill="#000"/>
<circle cx="1125.0" cy="341.0" r="3.00" fill="#000"/>
<circle cx="1111.0" cy="358.0" r="3.00" fill="#000"/>
<circle cx="1133.0" cy="370.0" r="3.00" fill="#000"/>
<circle cx="1165.0" cy="402.0" r="3.00" fill="#000"/>
<circle cx="1155.0" cy="418.0" r="3.00" fill="#000"/>
<circle cx="1157.0" cy="434.0" r="3.00" fill="#000"/>
<circle cx="1101.0" cy="415.0" r="3.00" fill="#000"/>
<circle cx="1057.0" cy="415.0" r="3.00" fill="#000"/>
<circle cx="1040.0" cy="425.0" r="3.00" fill="#000"/>
<circle cx="1061.0" cy="434.0" r="3.00" fill="#000"/>
<circle cx="1098.0" cy="434.0" r="3.00" fill="#000"/>
<circle cx="1236.0" cy="402.0" r="3.00" fill="#000"/>
<circle cx="1280.0" cy="385.0" r="3.00" fill="#000"/>
<circle cx="1468.0" cy="403.0" r="3.00" fill="#000"/>
<circle cx="1458.0" cy="423.0" r="3.00" fill="#000"/>
<circle cx="1482.0" cy="425.0" r="3.00" fill="#000"/>
<circle cx="1040.0" cy="572.0" r="3.00" fill="#000"/>
<circle cx="1071.0" cy="556.0" r="3.00" fill="#000"/>
<circle cx="1125.0" cy="556.0" r="3.00" fill="#000"/>
<circle cx="1151.0" cy="563.0" r="3.00" fill="#000"/>
<circle cx="1212.0" cy="573.0" r="3.00" fill="#000"/>
<circle cx="1232.0" cy="563.0" r="3.00" fill="#000"/>
<circle cx="1108.0" cy="634.0" r="3.00" fill="#000"/>
<circle cx="1150.0" cy="632.0" r="3.00" fill="#000"/>
<circle cx="1116.0" cy="657.0" r="3.00" fill="#000"/>
<circle cx="1029.0" cy="674.0" r="3.00" fill="#000"/>
<circle cx="1313.0" cy="620.0" r="3.00" fill="#000"/>
<circle cx="1293.0" cy="632.0" r="3.00" fill="#000"/>
<circle cx="1417.0" cy="671.0" r="3.00" fill="#000"/>
<circle cx="1421.0" cy="580.0" r="3.00" fill="#000"/>
<circle cx="1471.0" cy="570.0" r="3.00" fill="#000"/>
<circle cx="1495.0" cy="573.0" r="3.00" fill="#000"/>
<circle cx="1566.0" cy="324.0" r="3.00" fill="#000"/>
<circle cx="1570.0" cy="336.0" r="3.00" fill="#000"/>
<circle cx="1603.0" cy="334.0" r="3.00" fill="#000"/>
<circle cx="1686.0" cy="405.0" r="3.00" fill="#000"/>
<circle cx="1857.0" cy="425.0" r="3.00" fill="#000"/>
<circle cx="1841.0" cy="437.0" r="3.00" fill="#000"/>
<circle cx="1820.0" cy="434.0" r="3.00" fill="#000"/>
<circle cx="1557.0" cy="558.0" r="3.00" fill="#000"/>
<circle cx="1634.0" cy="572.0" r="3.00" fill="#000"/>
<circle cx="1652.0" cy="556.0" r="3.00" fill="#000"/>
<circle cx="1669.0" cy="558.0" r="3.00" fill="#000"/>
<circle cx="1686.0" cy="568.0" r="3.00" fill="#000"/>
<circle cx="1556.0" cy="620.0" r="3.00" fill="#000"/>
<circle cx="1559.0" cy="641.0" r="3.00" fill="#000"/>
<circle cx="1578.0" cy="646.0" r="3.00" fill="#000"/>
<circle cx="1864.0" cy="590.0" r="3.00" fill="#000"/>
<circle cx="1854.0" cy="602.0" r="3.00" fill="#000"/>
<circle cx="1871.0" cy="609.0" r="3.00" fill="#000"/>
<circle cx="1837.0" cy="620.0" r="3.00" fill="#000"/>
<circle cx="492.0" cy="1018.0" r="3.00" fill="#000"/>
<circle cx="377.0" cy="1180.0" r="3.00" fill="#000"/>
<circle cx="375.0" cy="1201.0" r="3.00" fill="#000"/>
<circle cx="393.0" cy="1198.0" r="3.00" fill="#000"/>
<circle cx="421.0" cy="1244.0" r="3.00" fill="#000"/>
<circle cx="424.0" cy="1257.0" r="3.00" fill="#000"/>
<circle cx="411.0" cy="1441.0" r="3.00" fill="#000"/>
<circle cx="449.0" cy="1450.0" r="3.00" fill="#000"/>
<circle cx="467.0" cy="1467.0" r="3.00" fill="#000"/>
<circle cx="480.0" cy="1465.0" r="3.00" fill="#000"/>
<circle cx="535.0" cy="1474.0" r="3.00" fill="#000"/>
<circle cx="603.0" cy="1475.0" r="3.00" fill="#000"/>
<circle cx="584.0" cy="1459.0" r="3.00" fill="#000"/>
<circle cx="606.0" cy="1446.0" r="3.00" fill="#000"/>
<circle cx="611.0" cy="1452.0" r="3.00" fill="#000"/>
<circle cx="624.0" cy="1076.0" r="3.00" fill="#000"/>
<circle cx="649.0" cy="1076.0" r="3.00" fill="#000"/>
<circle cx="682.0" cy="1079.0" r="3.00" fill="#000"/>
<circle cx="641.0" cy="1109.0" r="3.00" fill="#000"/>
<circle cx="624.0" cy="1216.0" r="3.00" fill="#000"/>
<circle cx="695.0" cy="1211.0" r="3.00" fill="#000"/>
<circle cx="697.0" cy="1228.0" r="3.00" fill="#000"/>
<circle cx="723.0" cy="1214.0" r="3.00" fill="#000"/>
<circle cx="807.0" cy="1233.0" r="3.00" fill="#000"/>
<circle cx="792.0" cy="1274.0" r="3.00" fill="#000"/>
<circle cx="822.0" cy="1274.0" r="3.00" fill="#000"/>
<circle cx="650.0" cy="1320.0" r="3.00" fill="#000"/>
<circle cx="637.0" cy="1345.0" r="3.00" fill="#000"/>
<circle cx="728.0" cy="1373.0" r="3.00" fill="#000"/>
<circle cx="708.0" cy="1391.0" r="3.00" fill="#000"/>
<circle cx="731.0" cy="1386.0" r="3.00" fill="#000"/>
<circle cx="695.0" cy="1416.0" r="3.00" fill="#000"/>
<circle cx="731.0" cy="1414.0" r="3.00" fill="#000"/>
<circle cx="1010.0" cy="1135.0" r="3.00" fill="#000"/>
<circle cx="973.0" cy="1163.0" r="3.00" fill="#000"/>
<circle cx="1000.0" cy="1163.0" r="3.00" fill="#000"/>
<circle cx="978.0" cy="1180.0" r="3.00" fill="#000"/>
<circle cx="906.0" cy="1274.0" r="3.00" fill="#000"/>
<circle cx="891.0" cy="1277.0" r="3.00" fill="#000"/>
<circle cx="919.0" cy="1279.0" r="3.00" fill="#000"/>
<circle cx="1006.0" cy="1287.0" r="3.00" fill="#000"/>
<circle cx="1046.0" cy="1282.0" r="3.00" fill="#000"/>
<circle cx="907.0" cy="1305.0" r="3.00" fill="#000"/>
<circle cx="985.0" cy="1389.0" r="3.00" fill="#000"/>
<circle cx="1006.0" cy="1394.0" r="3.00" fill="#000"/>
<circle cx="985.0" cy="1411.0" r="3.00" fill="#000"/>
<circle cx="1013.0" cy="1406.0" r="3.00" fill="#000"/>
<circle cx="1140.0" cy="1036.0" r="3.00" fill="#000"/>
<circle cx="1173.0" cy="1053.0" r="3.00" fill="#000"/>
<circle cx="1119.0" cy="1058.0" r="3.00" fill="#000"/>
<circle cx="1143.0" cy="1066.0" r="3.00" fill="#000"/>
<circle cx="1157.0" cy="1069.0" r="3.00" fill="#000"/>
<circle cx="1130.0" cy="1079.0" r="3.00" fill="#000"/>
<circle cx="1091.0" cy="1096.0" r="3.00" fill="#000"/>
<circle cx="1099.0" cy="1109.0" r="3.00" fill="#000"/>
<circle cx="1079.0" cy="1112.0" r="3.00" fill="#000"/>
<circle cx="1089.0" cy="1142.0" r="3.00" fill="#000"/>
<circle cx="1104.0" cy="1162.0" r="3.00" fill="#000"/>
<circle cx="1079.0" cy="1180.0" r="3.00" fill="#000"/>
<circle cx="1104.0" cy="1183.0" r="3.00" fill="#000"/>
<circle cx="1097.0" cy="1228.0" r="3.00" fill="#000"/>
<circle cx="1081.0" cy="1238.0" r="3.00" fill="#000"/>
<circle cx="1063.0" cy="1247.0" r="3.00" fill="#000"/>
<circle cx="1351.0" cy="1056.0" r="3.00" fill="#000"/>
<circle cx="1303.0" cy="1068.0" r="3.00" fill="#000"/>
<circle cx="1323.0" cy="1076.0" r="3.00" fill="#000"/>
<circle cx="1285.0" cy="1148.0" r="3.00" fill="#000"/>
<circle cx="1302.0" cy="1132.0" r="3.00" fill="#000"/>
<circle cx="1289.0" cy="1228.0" r="3.00" fill="#000"/>
<circle cx="1285.0" cy="1290.0" r="3.00" fill="#000"/>
<circle cx="1308.0" cy="1280.0" r="3.00" fill="#000"/>
<circle cx="1297.0" cy="1305.0" r="3.00" fill="#000"/>
<circle cx="1322.0" cy="1363.0" r="3.00" fill="#000"/>
<circle cx="1305.0" cy="1371.0" r="3.00" fill="#000"/>
<circle cx="1302.0" cy="1422.0" r="3.00" fill="#000"/>
<circle cx="1302.0" cy="1431.0" r="3.00" fill="#000"/>
<circle cx="1292.0" cy="1445.0" r="3.00" fill="#000"/>
<circle cx="1305.0" cy="1444.0" r="3.00" fill="#000"/>
<circle cx="1282.0" cy="1457.0" r="3.00" fill="#000"/>
<circle cx="1346.0" cy="1417.0" r="3.00" fill="#000"/>
<circle cx="1388.0" cy="1241.0" r="3.00" fill="#000"/>
<circle cx="1137.0" cy="1482.0" r="3.00" fill="#000"/>
<circle cx="1160.0" cy="1483.0" r="3.00" fill="#000"/>
<circle cx="1352.0" cy="1057.0" r="3.00" fill="#000"/>
<circle cx="1496.0" cy="1154.0" r="3.00" fill="#000"/>
<circle cx="1508.0" cy="1167.0" r="3.00" fill="#000"/>
<circle cx="1482.0" cy="1167.0" r="3.00" fill="#000"/>
<circle cx="1492.0" cy="1176.0" r="3.00" fill="#000"/>
<circle cx="1678.0" cy="1159.0" r="3.00" fill="#000"/>
<circle cx="1672.0" cy="1177.0" r="3.00" fill="#000"/>
<circle cx="1387.0" cy="1239.0" r="3.00" fill="#000"/>
<circle cx="1430.0" cy="1236.0" r="3.00" fill="#000"/>
<circle cx="1404.0" cy="1248.0" r="3.00" fill="#000"/>
<circle cx="1523.0" cy="1248.0" r="3.00" fill="#000"/>
<circle cx="1561.0" cy="1246.0" r="3.00" fill="#000"/>
<circle cx="1695.0" cy="1241.0" r="3.00" fill="#000"/>
<circle cx="1430.0" cy="1278.0" r="3.00" fill="#000"/>
<circle cx="1566.0" cy="1268.0" r="3.00" fill="#000"/>
<circle cx="1682.0" cy="1268.0" r="3.00" fill="#000"/>
<circle cx="1698.0" cy="1270.0" r="3.00" fill="#000"/>
<circle cx="1496.0" cy="1313.0" r="3.00" fill="#000"/>
<circle cx="1511.0" cy="1332.0" r="3.00" fill="#000"/>
<circle cx="1486.0" cy="1340.0" r="3.00" fill="#000"/>
<circle cx="1559.0" cy="1322.0" r="3.00" fill="#000"/>
<circle cx="1556.0" cy="1293.0" r="3.00" fill="#000"/>
<circle cx="1660.0" cy="1375.0" r="3.00" fill="#000"/>
<circle cx="1665.0" cy="1390.0" r="3.00" fill="#000"/>
<circle cx="1692.0" cy="1387.0" r="3.00" fill="#000"/>
<circle cx="1347.0" cy="1417.0" r="3.00" fill="#000"/>
<circle cx="1752.0" cy="1281.0" r="3.00" fill="#000"/>
<circle cx="1774.0" cy="1291.0" r="3.00" fill="#000"/>
<circle cx="1772.0" cy="1312.0" r="3.00" fill="#000"/>
<circle cx="1765.0" cy="1389.0" r="3.00" fill="#000"/>
<circle cx="1765.0" cy="1409.0" r="3.00" fill="#000"/>
<circle cx="1784.0" cy="1446.0" r="3.00" fill="#000"/>
<circle cx="1789.0" cy="1456.0" r="3.00" fill="#000"/>
<circle cx="1794.0" cy="1435.0" r="3.00" fill="#000"/>
<circle cx="1809.0" cy="1484.0" r="3.00" fill="#000"/>
<circle cx="1933.0" cy="1449.0" r="3.00" fill="#000"/>
<circle cx="1943.0" cy="1327.0" r="3.00" fill="#000"/>
<circle cx="1936.0" cy="1345.0" r="3.00" fill="#000"/>
<circle cx="1926.0" cy="1315.0" r="3.00" fill="#000"/>
<circle cx="1920.0" cy="1348.0" r="3.00" fill="#000"/>
<circle cx="1920.0" cy="1295.0" r="3.00" fill="#000"/>
<circle cx="1920.0" cy="1181.0" r="3.00" fill="#000"/>
<circle cx="1966.0" cy="1251.0" r="3.00" fill="#000"/>
<circle cx="1913.0" cy="1466.0" r="3.00" fill="#000"/>
<circle cx="1888.0" cy="1461.0" r="3.00" fill="#000"/>
<circle cx="1899.0" cy="1469.0" r="3.00" fill="#000"/>
<circle cx="1879.0" cy="1469.0" r="3.00" fill="#000"/>
<circle cx="1846.0" cy="1464.0" r="3.00" fill="#000"/>
<circle cx="1811.0" cy="1462.0" r="3.00" fill="#000"/>
<circle cx="1884.6" cy="1440.9" r="2.91" fill="#000"/>
<circle cx="1948.5" cy="1440.6" r="3.09" fill="#000"/>
<circle cx="1765.8" cy="1388.5" r="3.12" fill="#000"/>
<circle cx="1889.8" cy="1471.2" r="1.96" fill="#000"/>
<circle cx="1853.8" cy="1346.8" r="2.56" fill="#000"/>
<circle cx="1874.8" cy="1302.5" r="2.10" fill="#000"/>
<circle cx="1815.9" cy="1474.1" r="2.87" fill="#000"/>
<circle cx="1791.9" cy="1451.5" r="1.99" fill="#000"/>
<circle cx="1883.5" cy="1324.1" r="1.80" fill="#000"/>
<circle cx="1934.3" cy="1339.8" r="2.10" fill="#000"/>
<circle cx="1956.5" cy="1465.8" r="2.21" fill="#000"/>
<circle cx="1952.3" cy="1402.5" r="2.75" fill="#000"/>
<circle cx="1801.0" cy="1478.8" r="2.77" fill="#000"/>
<circle cx="1953.3" cy="1469.8" r="2.22" fill="#000"/>
<circle cx="1832.2" cy="1331.5" r="2.00" fill="#000"/>
<circle cx="1773.0" cy="1357.3" r="2.64" fill="#000"/>
<circle cx="1760.7" cy="1428.8" r="2.27" fill="#000"/>
<circle cx="1822.0" cy="1455.5" r="2.47" fill="#000"/>
<circle cx="1823.2" cy="1391.4" r="2.79" fill="#000"/>
<circle cx="1771.4" cy="1485.3" r="1.83" fill="#000"/>
<circle cx="1910.0" cy="1460.5" r="1.83" fill="#000"/>
<circle cx="1917.5" cy="1369.6" r="2.61" fill="#000"/>
<circle cx="1761.8" cy="1308.9" r="2.05" fill="#000"/>
<circle cx="1951.0" cy="1337.3" r="2.86" fill="#000"/>
<circle cx="1945.9" cy="1479.0" r="2.28" fill="#000"/>
<circle cx="1831.0" cy="1399.7" r="2.89" fill="#000"/>
<circle cx="1781.6" cy="1442.2" r="2.92" fill="#000"/>
<circle cx="1931.9" cy="1307.0" r="3.12" fill="#000"/>
<circle cx="1778.2" cy="1364.7" r="2.66" fill="#000"/>
<circle cx="1943.6" cy="1364.6" r="3.09" fill="#000"/>
<circle cx="1090.7" cy="1098.7" r="2.24" fill="#000"/>
<circle cx="1076.7" cy="1047.2" r="2.01" fill="#000"/>
<circle cx="1096.2" cy="1249.3" r="2.03" fill="#000"/>
<circle cx="1071.8" cy="1247.1" r="2.55" fill="#000"/>
<circle cx="1085.4" cy="1082.2" r="2.63" fill="#000"/>
<circle cx="1101.4" cy="1130.2" r="2.39" fill="#000"/>
<circle cx="1072.1" cy="1231.5" r="1.85" fill="#000"/>
<circle cx="1088.8" cy="1214.5" r="1.98" fill="#000"/>
<circle cx="1097.8" cy="1239.0" r="2.68" fill="#000"/>
<circle cx="1099.9" cy="1053.5" r="2.41" fill="#000"/>
<circle cx="1282.6" cy="1422.1" r="2.21" fill="#000"/>
<circle cx="1295.9" cy="1449.9" r="2.99" fill="#000"/>
<circle cx="1318.9" cy="1351.6" r="2.48" fill="#000"/>
<circle cx="1308.1" cy="1356.2" r="2.21" fill="#000"/>
<circle cx="1293.8" cy="1296.4" r="2.33" fill="#000"/>
<circle cx="1319.5" cy="1442.8" r="2.68" fill="#000"/>
<circle cx="1298.0" cy="1330.9" r="1.92" fill="#000"/>
<circle cx="1288.0" cy="1410.8" r="3.01" fill="#000"/>
<circle cx="1135.3" cy="1485.7" r="2.88" fill="#000"/>
<circle cx="1158.6" cy="1483.3" r="2.86" fill="#000"/>
<circle cx="1135.4" cy="1484.1" r="2.19" fill="#000"/>
<circle cx="1144.0" cy="1485.4" r="2.77" fill="#000"/>
<circle cx="1130.6" cy="1488.9" r="2.71" fill="#000"/>
<circle cx="1150.6" cy="1470.2" r="2.57" fill="#000"/>
<circle cx="610.0" cy="1463.6" r="2.45" fill="#000"/>
<circle cx="632.7" cy="1462.4" r="2.92" fill="#000"/>
<circle cx="613.9" cy="1462.2" r="2.83" fill="#000"/>
<circle cx="633.1" cy="1447.5" r="2.98" fill="#000"/>
<circle cx="634.8" cy="1464.4" r="3.17" fill="#000"/>
<circle cx="638.3" cy="1455.9" r="2.54" fill="#000"/>
<rect x="11" y="687" width="3" height="3" fill="#999"/>
<circle cx="251" cy="375" r="1.3" fill="#333"/>
</svg>
</body></html>
